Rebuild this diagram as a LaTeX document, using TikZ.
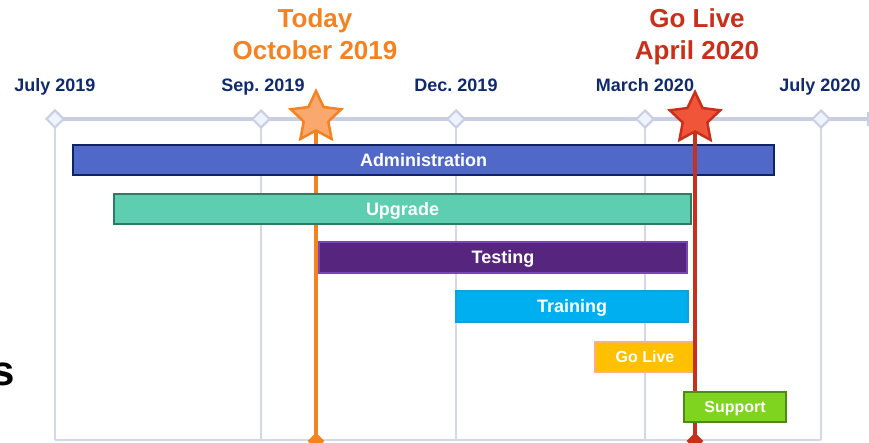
\documentclass[tikz,border=0pt]{standalone}
\usepackage{fontspec}
\setmainfont{Liberation Sans}
\usetikzlibrary{shapes.geometric}
\frenchspacing
\definecolor{navy}{HTML}{102A6E}
\definecolor{todayor}{HTML}{F58220}
\definecolor{todayfill}{HTML}{FBA86E}
\definecolor{liveRed}{HTML}{C9301C}
\definecolor{liveFill}{HTML}{F0553A}
\definecolor{lav}{HTML}{C9CDE6}
\definecolor{lavgrid}{HTML}{D3D7EC}
\definecolor{dfill}{HTML}{EEF3FC}
\definecolor{admF}{HTML}{5068C8}
\definecolor{admB}{HTML}{0F2462}
\definecolor{upgF}{HTML}{5DCFB0}
\definecolor{upgB}{HTML}{2E7A62}
\definecolor{tstF}{HTML}{56267E}
\definecolor{tstB}{HTML}{7A45B5}
\definecolor{trnF}{HTML}{00AFEF}
\definecolor{trnB}{HTML}{13A0D9}
\definecolor{glF}{HTML}{FFC000}
\definecolor{glB}{HTML}{FFAE80}
\definecolor{supF}{HTML}{7ED41E}
\definecolor{supB}{HTML}{4F8A12}
\tikzset{
  bar/.style={rectangle, line width=2.5pt, inner sep=0pt, text=white,
    text height=12.9pt, text depth=0pt,
    font=\bfseries\fontsize{18}{20}\selectfont},
  smallbar/.style={bar, text height=11.5pt,
    font=\bfseries\fontsize{16}{18}\selectfont},
  month/.style={anchor=base, inner sep=0pt, text=navy,
    font=\bfseries\fontsize{18}{20}\selectfont},
  bigtxt/.style={anchor=base, inner sep=0pt,
    font=\bfseries\fontsize{26}{30}\selectfont},
  dmd/.style={diamond, draw=lav, fill=dfill, line width=2pt, inner sep=0pt,
    minimum size=18pt},
  gridline/.style={draw=lavgrid, line width=1.5pt},
  bigstar/.style={star, star points=5, star point ratio=2.05, inner sep=0pt,
    minimum size=53pt, line width=2.5pt},
  botmark/.style={diamond, inner sep=0pt, minimum size=17pt}
}
\begin{document}
\begin{tikzpicture}[x=1pt,y=-1pt]
\useasboundingbox (0,0) rectangle (869,443);
% grid bottom coordinates
\coordinate (b1) at (55,440);
\coordinate (b2) at (261,440);
\coordinate (b3) at (456,440);
\coordinate (b4) at (645,440);
\coordinate (b5) at (821,440);
\coordinate (tlstart) at (55,119);
\coordinate (tlend) at (868,119);
% timeline
\draw[lav, line width=4pt] (tlstart) -- (tlend);
\draw[lav, line width=2pt] (tlend) ++(0,-7) -- ++(0,14);
% vertical grid lines
\foreach \i/\x in {1/55,2/261,3/456,4/645,5/821}{
  \coordinate (t\i) at (\x,119);
  \draw[gridline] (t\i) -- (b\i);
}
\draw[gridline] (b1) -- (b5);
% diamonds
\node[dmd] (d1) at (t1) {};
\node[dmd] (d2) at (t2) {};
\node[dmd] (d3) at (t3) {};
\node[dmd] (d4) at (t4) {};
\node[dmd] (d5) at (t5) {};
% month labels
\node[month] (m1) at (55,92) {July 2019};
\node[month] (m2) at (263,92) {Sep. 2019};
\node[month] (m3) at (456,92) {Dec. 2019};
\node[month] (m4) at (645,92) {March 2020};
\node[month] (m5) at (820,92) {July 2020};
% headline labels
\node[bigtxt, text=todayor] (tod1) at (315,28) {Today};
\node[bigtxt, text=todayor] (tod2) at (315,60) {October 2019};
\node[bigtxt, text=liveRed] (gl1) at (697,28) {Go Live};
\node[bigtxt, text=liveRed] (gl2) at (697,60) {April 2020};
% today line (under the bars)
\coordinate (todaytop) at (316,118);
\node[botmark, fill=todayor] (todaybot) at (316,441) {};
\draw[todayor, line width=4pt] (todaytop) -- (todaybot.center);
% bars
\node[bar, fill=admF, draw=admB, minimum width=701pt, minimum height=30pt] (adm) at (423.5,160) {Administration};
\node[bar, fill=upgF, draw=upgB, minimum width=577pt, minimum height=30pt] (upg) at (402.5,209) {Upgrade};
\node[bar, fill=tstF, draw=tstB, minimum width=368pt, minimum height=31pt] (tst) at (503,257.5) {Testing};
\node[bar, fill=trnF, draw=trnB, minimum width=232pt, minimum height=31pt] (trn) at (572,306.5) {Training};
\node[smallbar, fill=glF, draw=glB, minimum width=100pt, minimum height=30pt] (glbar) at (645,357) {Go Live};
% go live line (over the upper bars)
\coordinate (livetop) at (695,119);
\node[botmark, fill=liveRed] (livebot) at (695,441) {};
\draw[liveRed, line width=4pt] (livetop) -- (livebot.center);
\node[smallbar, fill=supF, draw=supB, minimum width=102pt, minimum height=30pt] (sup) at (735,407) {Support};
% stars
\node[bigstar, draw=todayor, fill=todayfill] (todaystar) at (316,117.5) {};
\node[bigstar, draw=liveRed, fill=liveFill] (livestar) at (695,118.5) {};
% cropped text at left
\node[anchor=base east, inner sep=0pt, font=\bfseries\fontsize{42}{46}\selectfont] (sfrag) at (15,385) {s};
\end{tikzpicture}
\end{document}
